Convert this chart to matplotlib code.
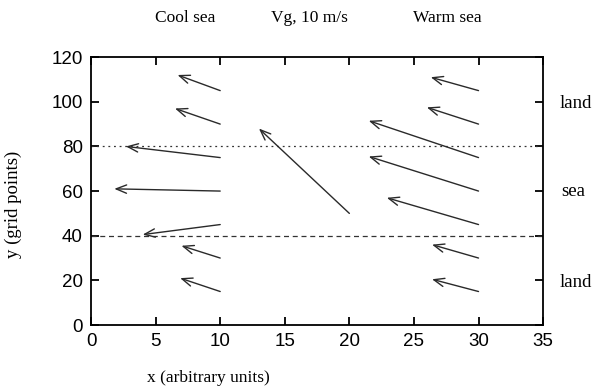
import matplotlib
matplotlib.use("Agg")
import matplotlib.pyplot as plt

# Wind vectors: tail positions and components (data units)
cool_x = [10, 10, 10, 10, 10, 10, 10]
cool_y = [105, 90, 75, 60, 45, 30, 15]
cool_u = [-3.3, -3.5, -7.3, -8.2, -6.0, -3.0, -3.1]
cool_v = [7.0, 7.0, 5.0, 1.0, -4.5, 5.5, 6.0]

warm_x = [30, 30, 30, 30, 30, 30, 30]
warm_y = [105, 90, 75, 60, 45, 30, 15]
warm_u = [-3.7, -4.0, -8.5, -8.5, -7.1, -3.6, -3.6]
warm_v = [6.0, 7.5, 16.5, 15.5, 12.0, 6.0, 5.5]

vg_x, vg_y, vg_u, vg_v = 20, 50, -7.0, 38.0

xticks = [0, 5, 10, 15, 20, 25, 30, 35]
yticks = [0, 20, 40, 60, 80, 100, 120]
coast_dotted = 80
coast_dashed = 40

serif = ["Liberation Serif", "DejaVu Serif"]
sans = ["Liberation Sans", "DejaVu Sans"]

fig = plt.figure(figsize=(6.13, 3.86), dpi=100)
ax = fig.add_axes([0.1485, 0.158, 0.7375, 0.694])
ax.set_xlim(0, 35)
ax.set_ylim(0, 120)

arrow_kw = dict(arrowstyle="->,head_length=0.75,head_width=0.3", color="#2a2a2a",
                lw=1.0, shrinkA=0, shrinkB=0)

for xs, ys, us, vs in [(cool_x, cool_y, cool_u, cool_v), (warm_x, warm_y, warm_u, warm_v)]:
    for x, y, u, v in zip(xs, ys, us, vs):
        ax.annotate("", xy=(x + u, y + v), xytext=(x, y), xycoords="data",
                    arrowprops=arrow_kw)
ax.annotate("", xy=(vg_x + vg_u, vg_y + vg_v), xytext=(vg_x, vg_y), xycoords="data",
            arrowprops=arrow_kw)

ax.axhline(coast_dotted, color="#333333", lw=0.9, linestyle=(0, (1.5, 3)))
ax.axhline(coast_dashed, color="#333333", lw=0.9, linestyle=(0, (4, 3)))

ax.set_xticks(xticks)
ax.set_yticks(yticks)
ax.tick_params(direction="in", top=True, right=True, length=6, width=1.3,
               labelsize=13.5, pad=6)
for lab in ax.get_xticklabels() + ax.get_yticklabels():
    lab.set_family(sans)
for s in ax.spines.values():
    s.set_linewidth(1.3)

fig.text(0.302, 0.953, "Cool sea", family=serif, fontsize=12.5, ha="center", va="center")
fig.text(0.504, 0.953, "Vg, 10 m/s", family=serif, fontsize=12.5, ha="center", va="center")
fig.text(0.729, 0.953, "Warm sea", family=serif, fontsize=12.5, ha="center", va="center")

fig.text(0.34, 0.022, "x (arbitrary units)", family=serif, fontsize=12.5, ha="center", va="center")
fig.text(0.022, 0.47, "y (grid points)", family=serif, fontsize=13.5, ha="center", va="center",
         rotation=90)

fig.text(0.94, 0.733, "land", family=serif, fontsize=13.5, ha="center", va="center")
fig.text(0.935, 0.503, "sea", family=serif, fontsize=13.5, ha="center", va="center")
fig.text(0.94, 0.267, "land", family=serif, fontsize=13.5, ha="center", va="center")

fig.savefig("out.png", dpi=100)
